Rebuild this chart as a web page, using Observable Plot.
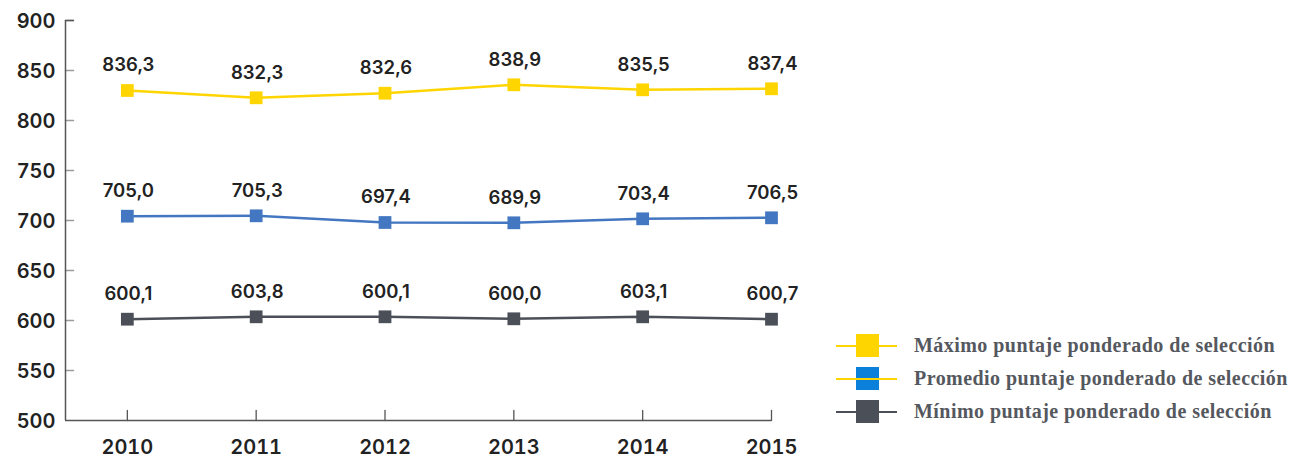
<!DOCTYPE html>
<html>
<head>
<meta charset="utf-8">
<script src="https://cdn.jsdelivr.net/npm/d3@7"></script>
<script src="https://cdn.jsdelivr.net/npm/@observablehq/plot@0.6"></script>
<style>
  html, body { margin: 0; padding: 0; background: #fff; }
  #wrap { position: relative; width: 1294px; height: 458px; }
  #legend { position: absolute; left: 836px; top: 329px; font-family: "Liberation Serif", serif; font-weight: bold; font-size: 20px; letter-spacing: 0.45px; color: #55585e; }
  .item { position: relative; height: 33px; display: flex; align-items: center; }
  .sw { position: relative; width: 61px; height: 23px; margin-right: 17px; }
  .sw .ln { position: absolute; left: 0; width: 61px; top: 10.5px; height: 2px; }
  .sw .sq { position: absolute; left: 20px; top: 0; width: 23px; height: 23px; }
</style>
</head>
<body>
<div id="wrap"><div id="chart"></div><div id="legend"></div></div>
<script>
const years = [2010, 2011, 2012, 2013, 2014, 2015];
const yTicks = [500, 550, 600, 650, 700, 750, 800, 850, 900];
const seriesNames = ["Máximo puntaje ponderado de selección", "Promedio puntaje ponderado de selección", "Mínimo puntaje ponderado de selección"];
const seriesColors = ["#FFD500", "#4477C1", "#4B4F58"];
const legendSquareColors = ["#FFD500", "#0A80DB", "#4B4F58"];
const legendLineColors = ["#FFD500", "#FFD500", "#4B4F58"];
// values as plotted
const maxValues = [830.0, 822.7, 827.3, 835.7, 830.7, 831.7];
const avgValues = [704.3, 704.7, 698.0, 697.7, 701.7, 702.7];
const minValues = [601.3, 603.7, 603.7, 601.7, 603.7, 601.3];
// values as printed
const maxLabels = ["836,3", "832,3", "832,6", "838,9", "835,5", "837,4"];
const avgLabels = ["705,0", "705,3", "697,4", "689,9", "703,4", "706,5"];
const minLabels = ["600,1", "603,8", "600,1", "600,0", "603,1", "600,7"];

const allValues = [maxValues, avgValues, minValues];
const allLabels = [maxLabels, avgLabels, minLabels];
const data = [];
seriesNames.forEach((s, i) => years.forEach((yr, j) => data.push({series: s, year: yr, value: allValues[i][j], label: allLabels[i][j]})));

const xMin = 2009.52;
const tickShapeUp = { draw(ctx, l) { ctx.moveTo(0, 0); ctx.lineTo(0, -l); } };

const chart = Plot.plot({
  width: 1294,
  height: 458,
  marginLeft: 65,
  marginRight: 523,
  marginTop: 20,
  marginBottom: 38,
  x: { type: "linear", domain: [xMin, 2015] },
  y: { domain: [500, 900] },
  color: { domain: seriesNames, range: seriesColors },
  style: { fontFamily: "Inter, sans-serif", background: "#fff" },
  marks: [
    Plot.axisY({ ticks: yTicks, tickSize: 0, tickPadding: 10, fontSize: 20, fontWeight: 600, fill: "#222", label: null, dy: 1 }),
    Plot.axisX({ ticks: years, tickSize: 0, tickPadding: 19, fontSize: 20, fontWeight: 600, fill: "#222", label: null, tickFormat: d => String(d) }),
    Plot.vector(yTicks.slice(1), { x: xMin, y: d => d, length: 8, rotate: 90, anchor: "start", shape: tickShapeUp, stroke: "#9a9a9a", strokeWidth: 1.5 }),
    Plot.vector(years, { x: d => d, y: 500, length: 10, rotate: 0, anchor: "start", shape: tickShapeUp, stroke: "#555", strokeWidth: 1.3 }),
    Plot.ruleX([xMin], { stroke: "#555", strokeWidth: 1.5 }),
    Plot.ruleY([500], { stroke: "#555", strokeWidth: 1.5 }),
    Plot.ruleY([900], { x1: xMin, x2: 2009.52 + 0.07, stroke: "#555", strokeWidth: 1.5 }),
    Plot.line(data, { x: "year", y: "value", z: "series", stroke: "series", strokeWidth: 2.5 }),
    Plot.dot(data, { x: "year", y: "value", fill: "series", symbol: "square", r: 7.2 }),
    Plot.text(data, { x: "year", y: "value", text: "label", dy: -25, fontSize: 18.5, fontWeight: 600, fill: "#222", dx: 1 })
  ]
});
document.getElementById("chart").appendChild(chart);

const legend = document.getElementById("legend");
seriesNames.forEach((s, i) => {
  const item = document.createElement("div");
  item.className = "item";
  item.innerHTML = `<div class="sw"><div class="sq" style="background:${legendSquareColors[i]}"></div><div class="ln" style="background:${legendLineColors[i]}"></div></div><span>${s}</span>`;
  legend.appendChild(item);
});
</script>
</body>
</html>
